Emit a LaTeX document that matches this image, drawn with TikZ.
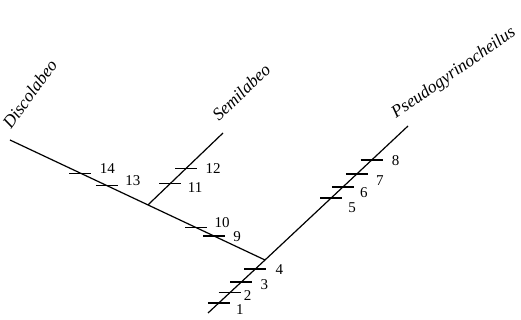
\documentclass[tikz,border=0pt]{standalone}
\usepackage{fontspec}
\setmainfont{Liberation Serif}
\usetikzlibrary{calc}
\tikzset{
  branch/.style   = {line width=1.2pt},
  tickmark/.style = {line width=1.2pt},
  num/.style      = {font=\fontsize{15}{15}\selectfont, inner sep=0pt},
  taxon/.style    = {font=\fontsize{17.5}{17.5}\selectfont\itshape, inner sep=0pt,
                     anchor=base west},
}

\begin{document}
\begin{tikzpicture}[x=1pt,y=-1pt]
  \useasboundingbox (0,0) rectangle (521,320);
  \coordinate (root) at (208,313);
  \coordinate (base) at (265,260);
  \coordinate (disc) at (10,140);
  \coordinate (semi) at (223,133);
  \coordinate (pseudo) at (408,126);
  \coordinate (fork) at ($(base)!0.459!(disc)$);
  \draw[branch] (root) -- (base) -- (pseudo);
  \draw[branch] (base) -- (disc);
  \draw[branch] (fork) -- (semi);
  \node[taxon, rotate=54] (ndisc) at (11,130) {Discolabeo};
  \node[taxon, rotate=44] (nsemi) at (219,122) {Semilabeo};
  \node[taxon, rotate=35] (npseudo) at (396,119) {Pseudogyrinocheilus};
  \foreach \a/\b/\f/\n/\dx/\dy in {root/base/0.19/1/21/7, root/base/0.38/2/18/3,
      root/base/0.585/3/23/3, root/base/0.83/4/24/1,
      base/pseudo/0.463/5/21/10, base/pseudo/0.545/6/21/6,
      base/pseudo/0.642/7/23/7, base/pseudo/0.746/8/24/1,
      base/disc/0.2/9/23/1, base/disc/0.27/10/26/-5,
      fork/semi/0.296/11/25/4, fork/semi/0.507/12/27/0,
      base/disc/0.62/13/26/-5, base/disc/0.724/14/27/-5}{
    \coordinate (t\n) at ($(\a)!\f!(\b)$);
    \draw[tickmark] ([xshift=-11pt]t\n) -- ([xshift=11pt]t\n);
    \node[num] (n\n) at ([shift={(\dx,\dy)}]t\n) {\n};
  }
\end{tikzpicture}
\end{document}
